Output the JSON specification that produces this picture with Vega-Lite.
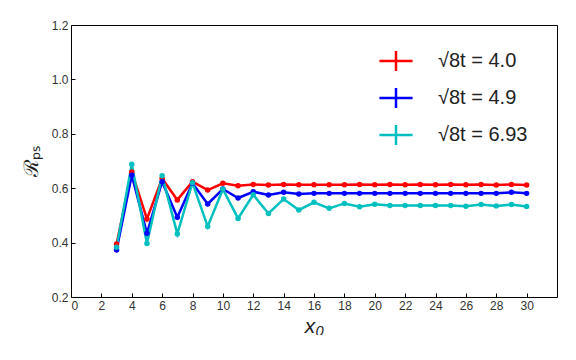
{
  "$schema": "https://vega.github.io/schema/vega-lite/v6.json",
  "width": 486,
  "height": 272,
  "autosize": "none",
  "padding": {"left": 71, "top": 25, "right": 19, "bottom": 38},
  "background": "white",
  "config": {
    "view": {"stroke": "black", "strokeWidth": 1},
    "font": "Liberation Sans",
    "axis": {"grid": false, "domain": false, "tickColor": "black", "tickSize": -4, "labelPadding": 7, "labelColor": "#333", "labelFontSize": 12, "titleFontWeight": "normal", "titleColor": "#222"}
  },
  "data": {"values": [
    {"x": 3, "y": 0.395, "t": "4.0"}, {"x": 4, "y": 0.66, "t": "4.0"}, {"x": 5, "y": 0.487, "t": "4.0"}, {"x": 6, "y": 0.636, "t": "4.0"}, {"x": 7, "y": 0.557, "t": "4.0"}, {"x": 8, "y": 0.624, "t": "4.0"}, {"x": 9, "y": 0.593, "t": "4.0"}, {"x": 10, "y": 0.618, "t": "4.0"}, {"x": 11, "y": 0.609, "t": "4.0"}, {"x": 12, "y": 0.614, "t": "4.0"}, {"x": 13, "y": 0.612, "t": "4.0"}, {"x": 14, "y": 0.614, "t": "4.0"}, {"x": 15, "y": 0.613, "t": "4.0"}, {"x": 16, "y": 0.613, "t": "4.0"}, {"x": 17, "y": 0.613, "t": "4.0"}, {"x": 18, "y": 0.613, "t": "4.0"}, {"x": 19, "y": 0.614, "t": "4.0"}, {"x": 20, "y": 0.613, "t": "4.0"}, {"x": 21, "y": 0.614, "t": "4.0"}, {"x": 22, "y": 0.613, "t": "4.0"}, {"x": 23, "y": 0.614, "t": "4.0"}, {"x": 24, "y": 0.613, "t": "4.0"}, {"x": 25, "y": 0.614, "t": "4.0"}, {"x": 26, "y": 0.613, "t": "4.0"}, {"x": 27, "y": 0.614, "t": "4.0"}, {"x": 28, "y": 0.612, "t": "4.0"}, {"x": 29, "y": 0.614, "t": "4.0"}, {"x": 30, "y": 0.612, "t": "4.0"},
    {"x": 3, "y": 0.373, "t": "4.9"}, {"x": 4, "y": 0.648, "t": "4.9"}, {"x": 5, "y": 0.434, "t": "4.9"}, {"x": 6, "y": 0.624, "t": "4.9"}, {"x": 7, "y": 0.493, "t": "4.9"}, {"x": 8, "y": 0.618, "t": "4.9"}, {"x": 9, "y": 0.542, "t": "4.9"}, {"x": 10, "y": 0.597, "t": "4.9"}, {"x": 11, "y": 0.564, "t": "4.9"}, {"x": 12, "y": 0.587, "t": "4.9"}, {"x": 13, "y": 0.575, "t": "4.9"}, {"x": 14, "y": 0.585, "t": "4.9"}, {"x": 15, "y": 0.579, "t": "4.9"}, {"x": 16, "y": 0.581, "t": "4.9"}, {"x": 17, "y": 0.581, "t": "4.9"}, {"x": 18, "y": 0.581, "t": "4.9"}, {"x": 19, "y": 0.581, "t": "4.9"}, {"x": 20, "y": 0.581, "t": "4.9"}, {"x": 21, "y": 0.581, "t": "4.9"}, {"x": 22, "y": 0.581, "t": "4.9"}, {"x": 23, "y": 0.581, "t": "4.9"}, {"x": 24, "y": 0.581, "t": "4.9"}, {"x": 25, "y": 0.581, "t": "4.9"}, {"x": 26, "y": 0.581, "t": "4.9"}, {"x": 27, "y": 0.581, "t": "4.9"}, {"x": 28, "y": 0.581, "t": "4.9"}, {"x": 29, "y": 0.585, "t": "4.9"}, {"x": 30, "y": 0.581, "t": "4.9"},
    {"x": 3, "y": 0.383, "t": "6.93"}, {"x": 4, "y": 0.688, "t": "6.93"}, {"x": 5, "y": 0.397, "t": "6.93"}, {"x": 6, "y": 0.646, "t": "6.93"}, {"x": 7, "y": 0.432, "t": "6.93"}, {"x": 8, "y": 0.62, "t": "6.93"}, {"x": 9, "y": 0.459, "t": "6.93"}, {"x": 10, "y": 0.596, "t": "6.93"}, {"x": 11, "y": 0.489, "t": "6.93"}, {"x": 12, "y": 0.576, "t": "6.93"}, {"x": 13, "y": 0.507, "t": "6.93"}, {"x": 14, "y": 0.56, "t": "6.93"}, {"x": 15, "y": 0.52, "t": "6.93"}, {"x": 16, "y": 0.548, "t": "6.93"}, {"x": 17, "y": 0.526, "t": "6.93"}, {"x": 18, "y": 0.544, "t": "6.93"}, {"x": 19, "y": 0.532, "t": "6.93"}, {"x": 20, "y": 0.541, "t": "6.93"}, {"x": 21, "y": 0.536, "t": "6.93"}, {"x": 22, "y": 0.536, "t": "6.93"}, {"x": 23, "y": 0.536, "t": "6.93"}, {"x": 24, "y": 0.536, "t": "6.93"}, {"x": 25, "y": 0.536, "t": "6.93"}, {"x": 26, "y": 0.534, "t": "6.93"}, {"x": 27, "y": 0.54, "t": "6.93"}, {"x": 28, "y": 0.535, "t": "6.93"}, {"x": 29, "y": 0.54, "t": "6.93"}, {"x": 30, "y": 0.533, "t": "6.93"}
  ]},
  "encoding": {
    "x": {"field": "x", "type": "quantitative", "scale": {"domain": [0, 32], "nice": false}, "axis": {"values": [0,2,4,6,8,10,12,14,16,18,20,22,24,26,28,30], "title": "x₀", "titleFontSize": 21, "titleFontStyle": "italic", "titlePadding": 4}},
    "y": {"field": "y", "type": "quantitative", "scale": {"domain": [0.2, 1.2], "nice": false}, "axis": {"values": [0.2, 0.4, 0.6, 0.8, 1.0, 1.2], "format": ".1f", "title": "ℛₚₛ", "titleFontSize": 20, "titlePadding": 10}},
    "color": {"field": "t", "type": "nominal", "scale": {"domain": ["4.0", "4.9", "6.93"], "range": ["#ff0000", "#0000ff", "#00bfbf"]}, "legend": {"title": null, "orient": "none", "legendX": 307, "legendY": 18, "labelFontSize": 20, "labelColor": "#222", "labelExpr": "'√8t = ' + datum.label", "symbolType": "M-1,0H1M0,-0.6V0.6", "symbolSize": 1100, "symbolStrokeWidth": 2.5, "symbolFillColor": "transparent", "labelOffset": 24, "rowPadding": 4}}
  },
  "layer": [
    {"mark": {"type": "line", "strokeWidth": 2.5}},
    {"mark": {"type": "circle", "size": 30, "opacity": 1}}
  ]
}
